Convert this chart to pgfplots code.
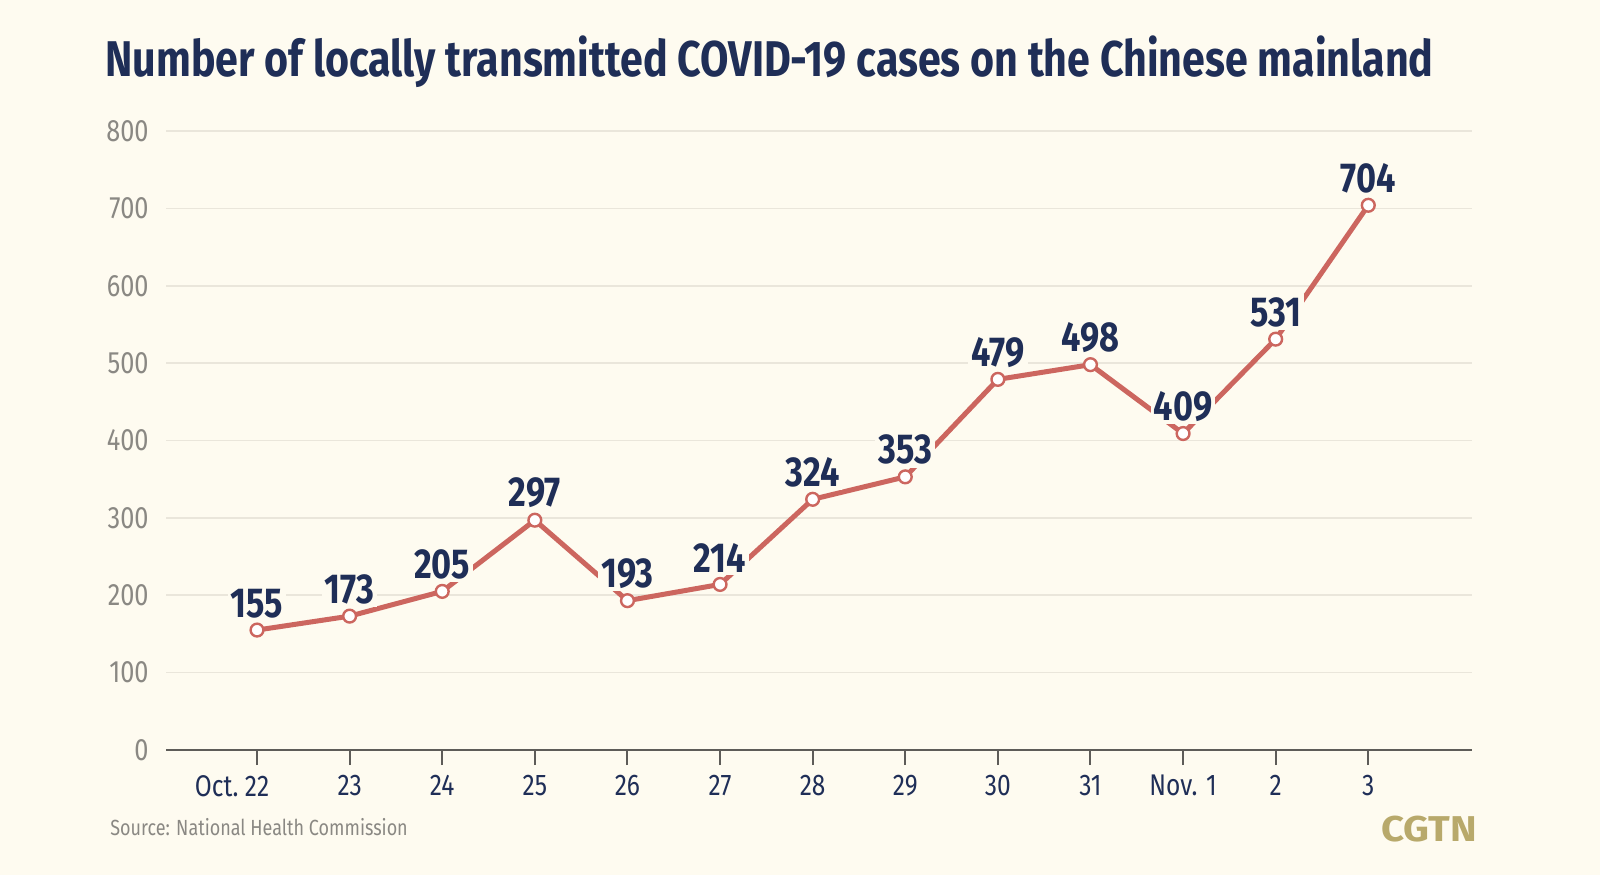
\documentclass[border=0pt]{standalone}
\usepackage{fontspec}
\setmainfont{Fira Sans}[FakeStretch=0.82]
\newfontfamily\widefont{Fira Sans}[FakeStretch=1.12]
\usepackage{pgfplots}
\pgfplotsset{compat=1.18}
\definecolor{bg}{HTML}{FEFBF0}
\definecolor{navy}{HTML}{1F2E57}
\definecolor{linered}{HTML}{CC665F}
\definecolor{tickgray}{HTML}{8A8883}
\definecolor{gridc}{HTML}{EAE6DB}
\definecolor{gold}{HTML}{B8A96B}
\definecolor{axisc}{HTML}{5E5C58}

\pgfplotstableread{
x y
0 155
1 173
2 205
3 297
4 193
5 214
6 324
7 353
8 479
9 498
10 409
11 531
12 704
}\cases

\begin{document}
\begin{tikzpicture}
\fill[bg] (0,0) rectangle (800bp,437.5bp);
\path[use as bounding box] (0,0) rectangle (800bp,437.5bp);

\node[anchor=base west, inner sep=0, text=navy,
      font=\bfseries\fontsize{25.2}{29}\selectfont] at (52.5bp,399bp)
  {Number of locally transmitted COVID-19 cases on the Chinese mainland};

\begin{axis}[
    at={(83bp,62.5bp)}, anchor=south west,
    scale only axis, width=653bp, height=309.5bp,
    xmin=-0.983, xmax=13.12, ymin=0, ymax=800,
    clip=false,
    axis x line*=bottom, axis y line*=left,
    y axis line style={draw=none},
    x axis line style={draw=axisc, line width=1bp},
    xtick={0,...,12},
    xticklabels={\llap{Oct.\ }22,23,24,25,26,27,28,29,30,31,Nov. 1,2,3},
    ytick={0,100,...,800},
    tick align=outside,
    major tick length=7.5bp,
    xtick style={draw=axisc, line width=1bp},
    ytick style={draw=none},
    ymajorgrids,
    grid style={draw=gridc, line width=0.8bp},
    /pgf/number format/assume math mode=true,
    yticklabel style={font=\fontsize{15.5}{17}\selectfont, text=tickgray,
                      anchor=east, inner sep=0pt, xshift=-1bp},
    xticklabel style={font=\fontsize{15}{17}\selectfont, text=navy,
                      inner sep=0pt, anchor=north, yshift=-5bp},
    nodes near coords,
    nodes near coords style={font=\bfseries\fontsize{21}{24}\selectfont,
                      text=navy, fill=bg, inner sep=1.5bp,
                      anchor=south, yshift=4bp},
  ]
\addplot[color=linered, line width=2.5bp,
         mark=*, mark size=3.2bp,
         mark options={fill=white, draw=linered, line width=1.2bp}]
  table[x=x, y=y] {\cases};
\end{axis}

\node[anchor=base west, inner sep=0, text=tickgray,
      font=\fontsize{11}{13}\selectfont] at (55bp,20bp)
  {Source: National Health Commission};
\node[anchor=base east, inner sep=0, text=gold,
      font=\widefont\bfseries\fontsize{18}{22}\selectfont] at (738.5bp,17bp) {CGTN};
\end{tikzpicture}
\end{document}
